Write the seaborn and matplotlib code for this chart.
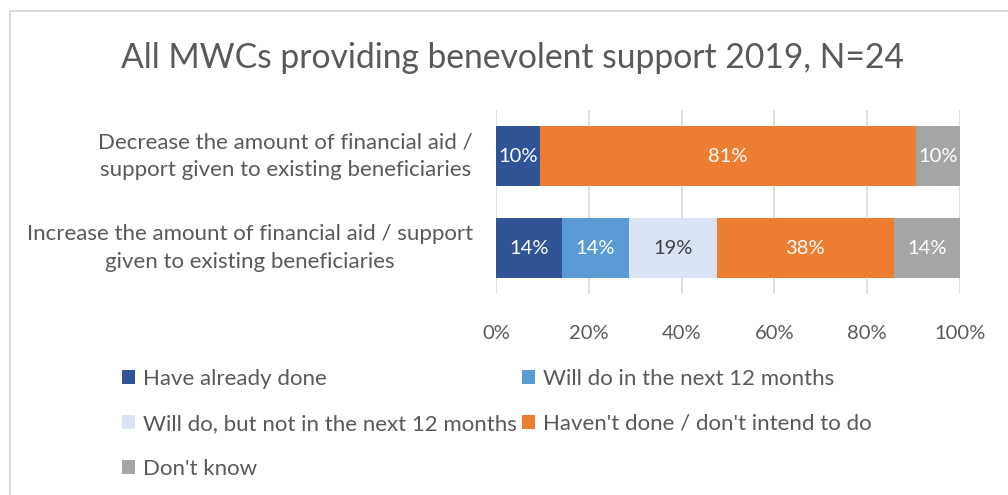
import numpy as np
import pandas as pd
import matplotlib
matplotlib.use("Agg")
import matplotlib.pyplot as plt
from matplotlib.patches import Patch, Rectangle
import seaborn as sns

# Survey questions (top to bottom)
questions = [
    "Decrease the amount of financial aid /\nsupport given to existing beneficiaries",
    "Increase the amount of financial aid / support\ngiven to existing beneficiaries",
]

# Response categories, in stacking order
responses = [
    "Have already done",
    "Will do in the next 12 months",
    "Will do, but not in the next 12 months",
    "Haven't done / don't intend to do",
    "Don't know",
]

# Share of respondents (%) per response, one value per question
have_done = [9.52, 14.29]
next_12 = [0.0, 14.29]
later = [0.0, 19.05]
not_intend = [80.95, 38.10]
dont_know = [9.52, 14.29]

colors = ["#2F5597", "#5B9BD5", "#DAE3F3", "#ED7D31", "#A5A5A5"]
label_colors = ["white", "white", "#404040", "white", "white"]

title = "All MWCs providing benevolent support 2019, N=24"
xticks = [0, 20, 40, 60, 80, 100]
xtick_labels = ["0%", "20%", "40%", "60%", "80%", "100%"]

text_color = "#595959"
font = "Lato"

sns.set_theme(style="white")
plt.rcParams["font.family"] = [font, "DejaVu Sans"]

series = [have_done, next_12, later, not_intend, dont_know]
values = np.array(series)               # shape (responses, questions)
cum = np.cumsum(values, axis=0)

df = pd.DataFrame({"question": np.repeat(questions, len(responses)),
                   "response": responses * len(questions),
                   "value": values.T.ravel(),
                   "right": cum.T.ravel()})

fig = plt.figure(figsize=(10.08, 4.95), dpi=100)
ax = fig.add_axes([496 / 1008, 1 - 294 / 495, 464 / 1008, 184 / 495])

# Stacked bars: draw cumulative totals from the outermost layer inwards
for i in reversed(range(len(responses))):
    sub = df[df["response"] == responses[i]]
    sns.barplot(data=sub, x="right", y="question", order=questions,
                color=colors[i], saturation=1, width=0.66, orient="h",
                linewidth=0, ax=ax)

# Value labels at the centre of each segment
for i, resp in enumerate(responses):
    for j, q in enumerate(questions):
        v = values[i, j]
        if v > 0:
            ax.text(cum[i, j] - v / 2, j, f"{v:.0f}%", ha="center", va="center",
                    color=label_colors[i], fontsize=14.5)

ax.set_xlim(0, 100)
ax.set_ylim(1.5, -0.5)
ax.set_xticks(xticks)
ax.set_xticklabels(xtick_labels, color=text_color, fontsize=14.5)
ax.tick_params(axis="x", length=0, pad=22)
ax.set_yticks([])
ax.set_xlabel("")
ax.set_ylabel("")
ax.grid(axis="x", color="#D9D9D9", linewidth=1.2)
ax.set_axisbelow(True)
for s in ax.spines.values():
    s.set_visible(False)

# Question labels, centred text block right-aligned against the axis
for j, q in enumerate(questions):
    ax.annotate(q, xy=(0, j), xycoords=("axes fraction", "data"),
                xytext=(-16.5, 0), textcoords="offset points",
                ha="right", va="center", multialignment="center",
                color=text_color, fontsize=16, linespacing=1.45)

fig.text(0.508, 1 - 58 / 495, title, ha="center", va="center",
         color=text_color, fontsize=24.2)

# Legend laid out row by row (matplotlib fills columns first)
handles = [Patch(facecolor=c, edgecolor="none", label=r) for c, r in zip(colors, responses)]
order = [0, 2, 4, 1, 3]
fig.legend([handles[k] for k in order], [responses[k] for k in order],
           ncol=2, loc="upper left", bbox_to_anchor=(122 / 1008, 1 - 369 / 495),
           frameon=False, fontsize=16, labelcolor=text_color,
           borderaxespad=0, borderpad=0,
           handlelength=0.6, handleheight=0.6, handletextpad=0.36,
           columnspacing=0.2, labelspacing=1.12)

# Chart area frame
fig.patches.append(Rectangle((10 / 1008, -0.1), 1.2, 1 - 11 / 495 + 0.1,
                             transform=fig.transFigure, fill=False,
                             edgecolor="#D9D9D9", linewidth=1.5))

fig.savefig("out.png", dpi=100)
